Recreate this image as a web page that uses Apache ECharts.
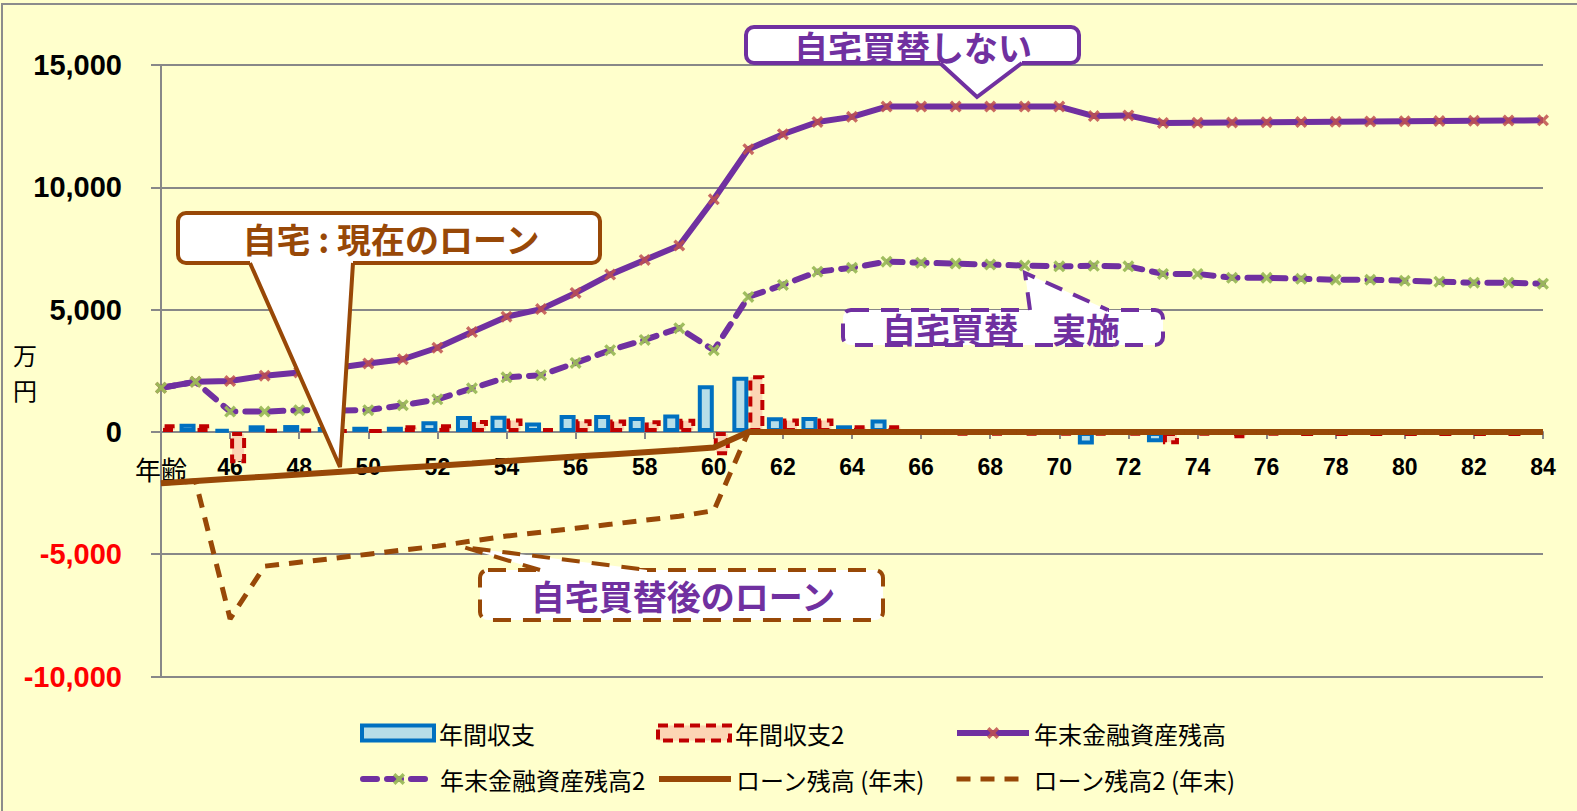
<!DOCTYPE html>
<html>
<head>
<meta charset="utf-8">
<script src="https://cdn.jsdelivr.net/npm/echarts@6/dist/echarts.min.js"></script>
<style>
  html, body { margin: 0; padding: 0; background: #fff; }
  #main { width: 1577px; height: 811px; }
</style>
</head>
<body>
<div id="main"></div>
<script>
// 年齢 (index 0 = 44歳, shown as 年齢)
const ages = ['年齢', '45', '46', '47', '48', '49', '50', '51', '52', '53', '54',
  '55', '56', '57', '58', '59', '60', '61', '62', '63', '64',
  '65', '66', '67', '68', '69', '70', '71', '72', '73', '74',
  '75', '76', '77', '78', '79', '80', '81', '82', '83', '84'];

// 年間収支 (万円)  先頭はグラフ端で切れて見えないので '-'
const balance = ['-', 330, 100, 270, 280, 200, 210, 210, 440, 650, 660,
  380, 690, 690, 610, 710, 1910, 2250, 600, 610, 270,
  510, 60, 0, 0, 0, -40, -520, 0, -420, 0,
  0, 0, 0, 0, 0, 0, 0, 0, 0, 0];

// 年間収支2  最後はグラフ端で切れて見えないので '-'
const balance2 = [310, 310, -1280, 100, 110, 80, 70, 270, 310, 490, 550,
  160, 520, 510, 480, 540, -950, 2320, 550, 550, 270,
  270, -60, -150, -150, -150, -150, -150, -150, -500, -150,
  -260, -150, -170, -170, -170, -170, -170, -170, -170, '-'];

// 年末金融資産残高
const assets = [1800, 2050, 2080, 2300, 2430, 2600, 2800, 2970, 3440, 4080, 4710,
  5020, 5680, 6430, 7030, 7620, 9510, 11560, 12170, 12670, 12880,
  13300, 13300, 13300, 13300, 13300, 13300, 12910, 12940, 12630, 12640,
  12650, 12660, 12670, 12680, 12690, 12700, 12710, 12720, 12730, 12740];

// 年末金融資産残高2
const assets2 = [1800, 2050, 830, 830, 890, 870, 890, 1090, 1330, 1780, 2230,
  2320, 2820, 3340, 3760, 4240, 3340, 5520, 6010, 6550, 6710,
  6960, 6920, 6880, 6840, 6800, 6770, 6790, 6770, 6460, 6460,
  6300, 6300, 6260, 6220, 6220, 6180, 6140, 6100, 6100, 6060];

// ローン残高 (年末)
const loan = [-2100, -2010, -1920, -1830, -1740, -1650, -1560, -1470, -1380, -1290, -1190,
  -1100, -1010, -920, -830, -740, -640, 0, 0, 0, 0,
  0, 0, 0, 0, 0, 0, 0, 0, 0, 0,
  0, 0, 0, 0, 0, 0, 0, 0, 0, 0];

// ローン残高2 (年末)
const loan2 = [-2100, -2010, -7640, -5490, -5330, -5170, -5000, -4830, -4670, -4460, -4260,
  -4100, -3940, -3780, -3610, -3450, -3220, 0, 0, 0, 0,
  0, 0, 0, 0, 0, 0, 0, 0, 0, 0,
  0, 0, 0, 0, 0, 0, 0, 0, 0, 0];

const PURPLE = '#7030A0';
const BROWN = '#984807';
const GRAY = '#888888';
const JP = '"Noto Sans CJK JP"';
const crossPath = 'path://M2,0 L5,3 L8,0 L10,2 L7,5 L10,8 L8,10 L5,7 L2,10 L0,8 L3,5 L0,2 Z';

const blueBar = { color: '#B7DEE8', borderColor: '#0070C0', borderWidth: 4 };
const redBar = { color: '#FCD5B4', borderColor: '#C00000', borderWidth: 4, borderType: [10, 6] };

// grid
const gridTop = 65, gridBottom = 134.5, H = 811;
const yMin = -10000, yMax = 15000;
// x軸を 0 の位置へ (グリッド下端からの距離)
const zeroOffset = (H - gridBottom - gridTop) * (0 - yMin) / (yMax - yMin);

const chart = echarts.init(document.getElementById('main'), null, { renderer: 'svg' });

// 吹き出し
function callout(box, wedge, color, dash, text, tx, ty, textColor) {
  const border = { stroke: color, lineWidth: 4, lineDash: dash || null };
  return [
    { type: 'rect', z: 100, shape: { x: box[0], y: box[1], width: box[2], height: box[3], r: 8 },
      style: Object.assign({ fill: '#fff' }, border) },
    { type: 'polygon', z: 101, shape: { points: wedge.fill }, style: { fill: '#fff' } },
    { type: 'polyline', z: 102, shape: { points: wedge.line },
      style: Object.assign({ fill: null, lineJoin: 'miter' }, border) },
    { type: 'text', z: 103, style: { text: text, x: tx, y: ty, align: 'center', verticalAlign: 'middle',
      font: 'bold 34px ' + JP, fill: textColor } }
  ];
}

const legendText = { fontSize: 24, fontFamily: JP, color: '#000' };
function legendAt(item, left, top, itemStyle) {
  return { data: [item], left: left, top: top, itemWidth: 72, itemHeight: 15, itemGap: 0,
    selectedMode: false, textStyle: legendText,
    itemStyle: itemStyle || {},
    lineStyle: { width: 'inherit' } };
}

const option = {
  backgroundColor: '#FFFFCC',
  animation: false,
  grid: { left: 161, right: 34, top: gridTop, bottom: gridBottom, containLabel: false },
  legend: [
    legendAt({ name: '年間収支', icon: 'rect' }, 355, 716, blueBar),
    legendAt({ name: '年間収支2', icon: 'rect' }, 651, 716, redBar),
    legendAt('年末金融資産残高', 949, 716),
    legendAt('年末金融資産残高2', 355, 762),
    legendAt('ローン残高 (年末)', 651, 762),
    legendAt('ローン残高2 (年末)', 949, 762)
  ],
  xAxis: {
    type: 'category',
    data: ages,
    boundaryGap: false,
    position: 'bottom',
    offset: -zeroOffset,
    axisLine: { onZero: false, lineStyle: { color: GRAY, width: 2 } },
    axisTick: { interval: 1, length: 7, lineStyle: { color: GRAY, width: 2 } },
    axisLabel: {
      interval: 1, margin: 24, fontSize: 23, fontWeight: 'bold',
      fontFamily: 'Liberation Sans', color: '#000',
      formatter: (v, i) => i === 0 ? '{a|年齢}' : v,
      rich: { a: { fontSize: 26, fontWeight: 'normal', fontFamily: JP, color: '#000' } }
    },
    splitLine: { show: false }
  },
  yAxis: {
    type: 'value',
    min: yMin, max: yMax, interval: 5000,
    axisLine: { show: true, lineStyle: { color: GRAY, width: 2 } },
    axisTick: { show: true, length: 10, lineStyle: { color: GRAY, width: 2 } },
    splitLine: { lineStyle: { color: GRAY, width: 2 } },
    axisLabel: {
      margin: 39, fontSize: 29, fontWeight: 'bold', fontFamily: 'Liberation Sans',
      color: v => Number(v) < 0 ? '#FF0000' : '#000',
      formatter: v => v.toLocaleString('en-US')
    }
  },
  series: [
    { name: '年間収支', type: 'bar', data: balance, barWidth: 16, barGap: '0%', itemStyle: blueBar },
    { name: '年間収支2', type: 'bar', data: balance2, barWidth: 16, itemStyle: redBar },
    { name: '年末金融資産残高', type: 'line', data: assets, symbol: crossPath, symbolSize: 12,
      showAllSymbol: true, z: 4,
      lineStyle: { color: PURPLE, width: 6 },
      itemStyle: { color: 'rgba(192,80,77,0.85)' } },
    { name: '年末金融資産残高2', type: 'line', data: assets2, symbol: crossPath, symbolSize: 12,
      showAllSymbol: true, z: 4,
      lineStyle: { color: PURPLE, width: 6, type: [14, 10], cap: 'round' },
      itemStyle: { color: 'rgba(155,187,89,0.95)' } },
    { name: 'ローン残高 (年末)', type: 'line', data: loan, symbol: 'none', z: 3,
      lineStyle: { color: BROWN, width: 6 }, itemStyle: { color: 'rgba(0,0,0,0)' } },
    { name: 'ローン残高2 (年末)', type: 'line', data: loan2, symbol: 'none', z: 3,
      lineStyle: { color: BROWN, width: 5, type: [14, 10] }, itemStyle: { color: 'rgba(0,0,0,0)' } }
  ],
  graphic: [
    { type: 'rect', z: 90, shape: { x: 2, y: 4, width: 1700, height: 900 },
      style: { fill: null, stroke: '#8C8C8C', lineWidth: 2 } },
    { type: 'text', z: 90, style: { text: '万', x: 25, y: 354, align: 'center', verticalAlign: 'middle',
      font: '24px ' + JP, fill: '#000' } },
    { type: 'text', z: 90, style: { text: '円', x: 25, y: 389, align: 'center', verticalAlign: 'middle',
      font: '24px ' + JP, fill: '#000' } }
  ]
    .concat(callout([746, 27, 333, 36],
      { fill: [[940, 58], [940, 63], [977, 97], [1022, 63], [1022, 58]], line: [[940, 63], [977, 97], [1022, 63]] },
      PURPLE, null, '自宅買替しない', 913, 46, PURPLE))
    .concat(callout([178, 213, 422, 50],
      { fill: [[250, 258], [250, 263], [340, 467], [353, 263], [353, 258]], line: [[250, 263], [340, 467], [353, 263]] },
      BROWN, null, '自宅 : 現在のローン', 391, 238, BROWN))
    .concat(callout([843, 310, 320, 35],
      { fill: [[1030, 315], [1030, 310], [1025, 273], [1108, 310], [1108, 315]], line: [[1030, 310], [1025, 273], [1108, 310]] },
      PURPLE, [18, 12], '自宅買替　実施', 1001, 328, PURPLE))
    .concat(callout([480, 570, 403, 50],
      { fill: [[540, 575], [540, 570], [463, 547], [647, 570], [647, 575]], line: [[540, 570], [463, 547], [647, 570]] },
      BROWN, [18, 12], '自宅買替後のローン', 683, 595, PURPLE))
};

chart.setOption(option);
</script>
</body>
</html>
